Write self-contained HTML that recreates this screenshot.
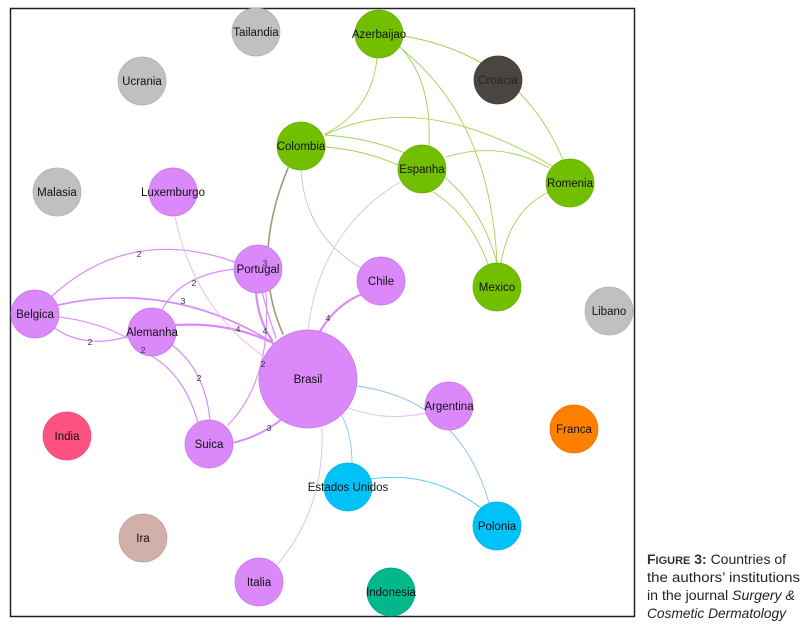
<!DOCTYPE html>
<html><head><meta charset="utf-8"><style>
html,body{margin:0;padding:0;background:#fff;}
svg{display:block;}
</style></head><body>
<svg width="803" height="631" viewBox="0 0 803 631" xmlns="http://www.w3.org/2000/svg">
<rect x="0" y="0" width="803" height="631" fill="#fff"/>
<rect x="10.5" y="8.5" width="624" height="608" fill="none" stroke="#222" stroke-width="1.5"/>
<g fill="none" stroke-linecap="round">
<!-- green edges -->
<g stroke="#a2d254" stroke-width="0.9">
<path d="M403 36 Q520 55 564 162"/>
<path d="M377 58 Q372 110 325 134"/>
<path d="M400 47 Q432 80 429 146"/>
<path d="M403 50 Q490 120 497 263"/>
<path d="M325 135 Q420 88 552 166"/>
<path d="M325 135 Q465 145 497 263"/>
<path d="M325 147 Q365 150 400 166"/>
<path d="M446 157 Q500 140 549 168"/>
<path d="M433 192 Q470 215 488 264"/>
<path d="M501 263 Q510 210 549 192"/>
</g>
<path d="M301 170 Q305 235 361 268" stroke="#c4c8a8" stroke-width="0.9"/>
<path d="M400 182 Q320 230 308 330" stroke="#cfcfbd" stroke-width="0.9"/>
<path d="M288 168 Q250 260 283 334" stroke="#9d9874" stroke-width="1.6"/>
<!-- purple edges -->
<g stroke="#d98bfa">
<path d="M362 294 Q335 305 319 333" stroke-width="2.2"/>
<path d="M52 296 Q130 225 235 262" stroke-width="1.2"/>
<path d="M58 305 Q170 280 272 342" stroke-width="1.7"/>
<path d="M59 317 Q100 322 131 340" stroke-width="1"/>
<path d="M53 327 Q85 350 129 336" stroke-width="1.2"/>
<path d="M162 310 Q180 275 235 269" stroke-width="1.2"/>
<path d="M176 325 Q230 322 273 343" stroke-width="2.2"/>
<path d="M256 292 Q258 320 272 340" stroke-width="2.2"/>
<path d="M262 292 Q268 315 276 338" stroke-width="1.2"/>
<path d="M228 425 Q272 380 266 293" stroke-width="1.1"/>
<path d="M150 355 Q185 375 198 423" stroke-width="1.2"/>
<path d="M172 345 Q205 370 210 420" stroke-width="1.2"/>
<path d="M232 443 Q262 436 283 418" stroke-width="1.9"/>
</g>
<g stroke="#e8b6fc" stroke-width="0.9">
<path d="M175 217 Q195 310 266 358"/>
<path d="M349 408 Q385 422 426 413"/>
<path d="M322 428 Q325 510 276 566"/>
</g>
<path d="M357 386 Q460 400 489 503" stroke="#8cc0f2" stroke-width="0.9"/>
<path d="M342 416 Q352 435 352 463" stroke="#8cc0f2" stroke-width="0.9"/>
<path d="M371 479 Q430 470 481 508" stroke="#3ecdf2" stroke-width="0.9"/>
</g>
<!-- nodes -->
<g stroke-width="0.7">
<circle cx="256" cy="32" r="24" fill="#c0c0c0" stroke="#adadad"/>
<circle cx="142" cy="81" r="24" fill="#c0c0c0" stroke="#adadad"/>
<circle cx="57" cy="192" r="24" fill="#c0c0c0" stroke="#adadad"/>
<circle cx="609" cy="311" r="24" fill="#c0c0c0" stroke="#adadad"/>
<circle cx="173" cy="192" r="24" fill="#da88fa" stroke="#c474e4"/>
<circle cx="379" cy="34" r="24" fill="#72bf00" stroke="#66ab00"/>
<circle cx="498" cy="80" r="24" fill="#4b4541" stroke="#3f3a36"/>
<circle cx="301" cy="146" r="24" fill="#72bf00" stroke="#66ab00"/>
<circle cx="422" cy="169" r="24" fill="#72bf00" stroke="#66ab00"/>
<circle cx="570" cy="183" r="24" fill="#72bf00" stroke="#66ab00"/>
<circle cx="497" cy="287" r="24" fill="#72bf00" stroke="#66ab00"/>
<circle cx="381" cy="281" r="24" fill="#da88fa" stroke="#c474e4"/>
<circle cx="258" cy="269" r="24" fill="#da88fa" stroke="#c474e4"/>
<circle cx="35" cy="314" r="24" fill="#da88fa" stroke="#c474e4"/>
<circle cx="152" cy="332" r="24" fill="#da88fa" stroke="#c474e4"/>
<circle cx="308" cy="379" r="49" fill="#da88fa" stroke="#c474e4"/>
<circle cx="449" cy="406" r="24" fill="#da88fa" stroke="#c474e4"/>
<circle cx="67" cy="436" r="24" fill="#fe5382" stroke="#e84a75"/>
<circle cx="209" cy="444" r="24" fill="#da88fa" stroke="#c474e4"/>
<circle cx="574" cy="429" r="24" fill="#ff8000" stroke="#e67300"/>
<circle cx="348" cy="487" r="24" fill="#00c1f8" stroke="#00ade0"/>
<circle cx="497" cy="526" r="24" fill="#00c1f8" stroke="#00ade0"/>
<circle cx="143" cy="538" r="24" fill="#d1b0a9" stroke="#bd9e98"/>
<circle cx="259" cy="582" r="24" fill="#da88fa" stroke="#c474e4"/>
<circle cx="391" cy="592" r="24" fill="#00b88c" stroke="#00a57e"/>
</g>
<!-- edge labels -->
<g font-family="Liberation Sans, Arial, sans-serif" font-size="8.5" fill="#333" text-anchor="middle">
<text x="139" y="257">2</text>
<text x="183" y="304">3</text>
<text x="90" y="345">2</text>
<text x="194" y="286">2</text>
<text x="238" y="332">4</text>
<text x="265" y="334">4</text>
<text x="265" y="266">3</text>
<text x="263" y="367">2</text>
<text x="143" y="353">2</text>
<text x="199" y="381">2</text>
<text x="269" y="431">3</text>
<text x="328" y="321">4</text>
</g>
<!-- node labels -->
<g font-family="Liberation Sans, Arial, sans-serif" font-size="11.5" fill="#111" text-anchor="middle">
<text x="256" y="36">Tailandia</text>
<text x="142" y="85">Ucrania</text>
<text x="57" y="196">Malasia</text>
<text x="609" y="315">Libano</text>
<text x="173" y="196">Luxemburgo</text>
<text x="379" y="38">Azerbaijao</text>
<text x="498" y="84" fill="#2a2522">Croacia</text>
<text x="301" y="150">Colombia</text>
<text x="422" y="173">Espanha</text>
<text x="570" y="187">Romenia</text>
<text x="497" y="291">Mexico</text>
<text x="381" y="285">Chile</text>
<text x="258" y="273">Portugal</text>
<text x="35" y="318">Belgica</text>
<text x="152" y="336">Alemanha</text>
<text x="308" y="383">Brasil</text>
<text x="449" y="410">Argentina</text>
<text x="67" y="440">India</text>
<text x="209" y="448">Suica</text>
<text x="574" y="433">Franca</text>
<text x="348" y="491">Estados Unidos</text>
<text x="497" y="530">Polonia</text>
<text x="143" y="542">Ira</text>
<text x="259" y="586">Italia</text>
<text x="391" y="596">Indonesia</text>
</g>
<!-- caption -->
<g font-family="Liberation Sans, Arial, sans-serif" font-size="14" fill="#231f20">
<text x="647" y="564" textLength="139" lengthAdjust="spacingAndGlyphs"><tspan font-weight="bold" fill="#333">F</tspan><tspan font-weight="bold" font-size="11" fill="#333">IGURE</tspan><tspan font-weight="bold" fill="#333"> 3:</tspan> Countries of</text>
<text x="647" y="582" textLength="153" lengthAdjust="spacingAndGlyphs">the authors’ institutions</text>
<text x="647" y="600" textLength="148" lengthAdjust="spacingAndGlyphs">in the journal <tspan font-style="italic">Surgery &amp;</tspan></text>
<text x="647" y="618" textLength="139" lengthAdjust="spacingAndGlyphs" font-style="italic">Cosmetic Dermatology</text>
</g>
</svg>
</body></html>
